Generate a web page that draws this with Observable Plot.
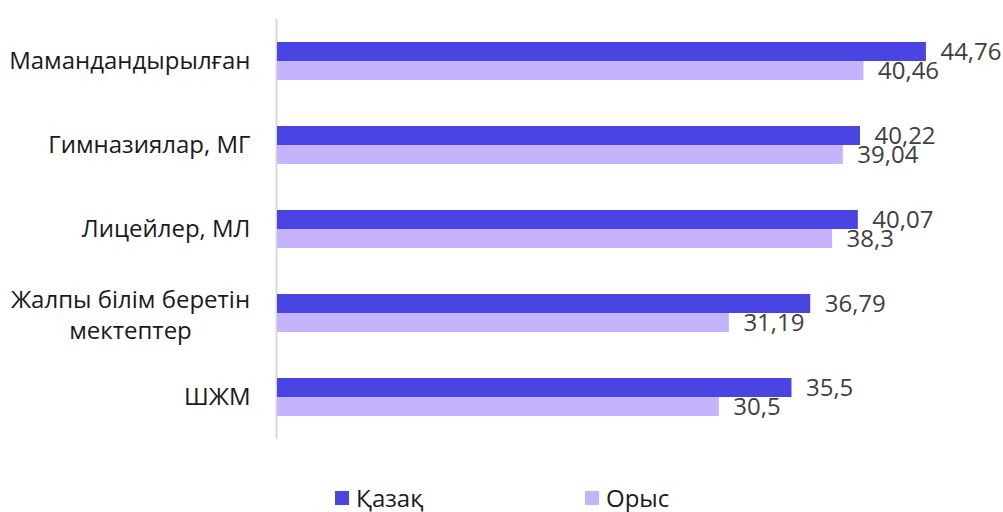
<!DOCTYPE html>
<html><head><meta charset="utf-8">
<script src="https://cdn.jsdelivr.net/npm/d3@7"></script>
<script src="https://cdn.jsdelivr.net/npm/@observablehq/plot@0.6"></script>
<style>
body{margin:0;background:#fff;font-family:"Open Sans",sans-serif;}
#chart{position:relative;width:1003px;height:512px;overflow:hidden;}
#chart svg{position:absolute;left:0;top:0;}
.legend{position:absolute;top:484px;left:0;width:1003px;height:28px;font-size:24px;color:#1a1a1a;line-height:28px;}
.item{position:absolute;top:0;display:flex;align-items:center;height:28px;}
.sw{width:14px;height:14px;margin-right:7px;}
</style></head><body><div id="chart"></div>
<script>
const categories = ["Мамандандырылған", "Гимназиялар, МГ", "Лицейлер, МЛ", "Жалпы білім беретін мектептер", "ШЖМ"];
const series = ["Қазақ", "Орыс"];
const kazakh = [44.76, 40.22, 40.07, 36.79, 35.5];
const russian = [40.46, 39.04, 38.3, 31.19, 30.5];
const colors = ["#4a44e3", "#c5b3fd"];

const data = categories.flatMap((c, i) => [
  {category: c, series: series[0], value: kazakh[i]},
  {category: c, series: series[1], value: russian[i]}
]);
const fmt = v => String(v).replace(".", ",");
const wrapped = "Жалпы білім беретін мектептер";

const plot = Plot.plot({
  width: 1003, height: 460,
  marginLeft: 276, marginRight: 1, marginTop: 17, marginBottom: 19,
  style: {fontFamily: "Open Sans", fontSize: "24px", background: "transparent"},
  x: {domain: [0, 50], axis: null},
  y: {domain: series, axis: null, paddingInner: 0, paddingOuter: 1.12},
  fy: {domain: categories, axis: null, padding: 0},
  color: {domain: series, range: colors},
  marks: [
    Plot.ruleX([0], {stroke: "#d9d9d9", strokeWidth: 2}),
    Plot.barX(data, {fy: "category", y: "series", x: "value", fill: "series", insetLeft: 1}),
    Plot.text(data, {fy: "category", y: "series", x: "value", text: d => fmt(d.value), textAnchor: "start", dx: 14, fill: "#404040", fontSize: 24}),
    Plot.text(categories.filter(c => c !== wrapped), {fy: d => d, text: d => d, frameAnchor: "left", dx: -26, textAnchor: "end", fill: "#1a1a1a", fontSize: 24}),
    Plot.text([wrapped], {fy: d => d, text: d => "Жалпы білім беретін\nмектептер", frameAnchor: "left", dx: -146, textAnchor: "middle", fill: "#1a1a1a", fontSize: 24, lineHeight: 1.3})
  ]
});
const chart = document.getElementById("chart");
chart.appendChild(plot);

const legend = document.createElement("div");
legend.className = "legend";
const lefts = [335, 585];
series.forEach((s, i) => {
  const it = document.createElement("div");
  it.className = "item";
  it.style.left = lefts[i] + "px";
  const sw = document.createElement("span");
  sw.className = "sw";
  sw.style.background = colors[i];
  const t = document.createElement("span");
  t.textContent = s;
  it.appendChild(sw); it.appendChild(t);
  legend.appendChild(it);
});
chart.appendChild(legend);
</script></body></html>
